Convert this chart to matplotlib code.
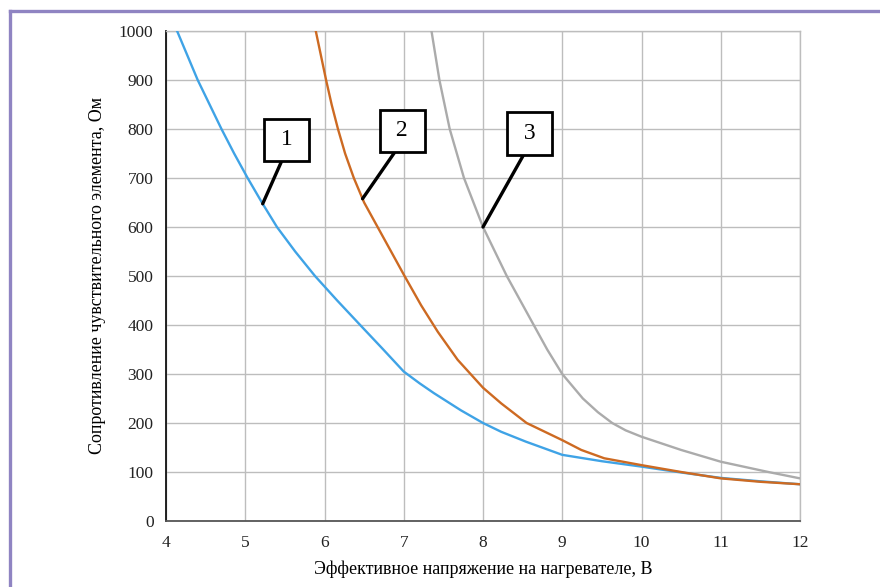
import numpy as np
import matplotlib
matplotlib.use('Agg')
import matplotlib.pyplot as plt
from matplotlib.lines import Line2D

plt.rcParams['font.family'] = ['Liberation Serif', 'DejaVu Serif']

# Curves: heater voltage (V) vs sensing element resistance (Ohm)
u1 = [4.14, 4.27, 4.40, 4.55, 4.70, 4.86, 5.03, 5.21, 5.40, 5.63, 5.88, 6.16, 6.45, 6.73,
      7.00, 7.20, 7.38, 7.72, 8.00, 8.23, 8.54, 9.00, 9.50, 10.0, 10.5, 11.0, 11.5, 12.0]
r1 = [1000, 950, 900, 850, 800, 750, 700, 650, 600, 550, 500, 450, 400, 352,
      305, 281, 261, 226, 200, 182, 162, 135, 122, 111, 99, 88, 81, 75]

u2 = [5.89, 6.02, 6.09, 6.17, 6.26, 6.37, 6.50, 6.67, 6.83, 7.01, 7.22, 7.43, 7.68, 8.00,
      8.23, 8.55, 9.00, 9.24, 9.53, 10.0, 10.5, 11.0, 11.5, 12.0]
r2 = [1000, 900, 850, 800, 750, 700, 650, 600, 553, 500, 440, 386, 329, 272,
      240, 200, 165, 145, 128, 114, 100, 87, 80, 75]

u3 = [7.35, 7.45, 7.58, 7.76, 8.00, 8.30, 8.64, 8.81, 9.00, 9.26, 9.45, 9.63, 9.80, 10.0,
      10.5, 11.0, 11.6, 12.0]
r3 = [1000, 900, 800, 700, 600, 500, 400, 350, 300, 250, 222, 200, 185, 172,
      145, 121, 100, 87]

# callout labels: number, point on curve (x), box centre (x, y)
labels = ['1', '2', '3']
tip_x = [5.22, 6.48, 8.00]
box_xy = [(5.52, 778), (6.98, 796), (8.59, 791)]

colors = ['#3fa3e6', '#cd6a22', '#ababab']

fig = plt.figure(figsize=(8.8, 5.87), dpi=100)
ax = fig.add_axes([166 / 880, 1 - 521 / 587, 634 / 880, 490 / 587])

curves = [(u1, r1), (u2, r2), (u3, r3)]
for (u, r), c in zip(curves, colors):
    ax.plot(u, r, color=c, lw=1.7, zorder=3, solid_joinstyle='round')

ax.set_xlim(4, 12)
ax.set_ylim(0, 1000)
ax.set_xticks(range(4, 13))
ax.set_yticks(range(0, 1001, 100))
ax.grid(True, color='#bdbdbd', lw=1.0)
ax.set_axisbelow(True)
ax.tick_params(length=0, labelsize=12.5, colors='#222222')
ax.tick_params(axis='y', pad=9)
ax.tick_params(axis='x', pad=10)

ax.spines['left'].set_color('#111111')
ax.spines['left'].set_linewidth(1.3)
ax.spines['bottom'].set_color('#555555')
ax.spines['bottom'].set_linewidth(1.3)
for s in ['top', 'right']:
    ax.spines[s].set_color('#bdbdbd')
    ax.spines[s].set_linewidth(1.0)

ax.set_xlabel('Эффективное напряжение на нагревателе, В', fontsize=13, labelpad=7)
ax.set_ylabel('Сопротивление чувствительного элемента, Ом', fontsize=13, labelpad=9)

for lab, tx, bxy, (u, r) in zip(labels, tip_x, box_xy, curves):
    ty = np.interp(tx, u, r)
    ax.annotate(' ' + lab + ' ', xy=(tx, ty), xytext=bxy,
                ha='center', va='center', fontsize=17, zorder=5,
                bbox=dict(boxstyle='square,pad=0.45', fc='white', ec='black', lw=2.0),
                arrowprops=dict(arrowstyle='-', lw=2.4, color='black',
                                relpos=(0.5, 0), shrinkA=0, shrinkB=0))

# frame around the figure
frame = '#8f84c2'
fig.add_artist(Line2D([9.5 / 880, 9.5 / 880], [0, 1 - 10.5 / 587],
                      transform=fig.transFigure, color=frame, lw=2.4))
fig.add_artist(Line2D([9.5 / 880, 1], [1 - 10.5 / 587, 1 - 10.5 / 587],
                      transform=fig.transFigure, color=frame, lw=2.4))

fig.savefig('out.png', dpi=100)
